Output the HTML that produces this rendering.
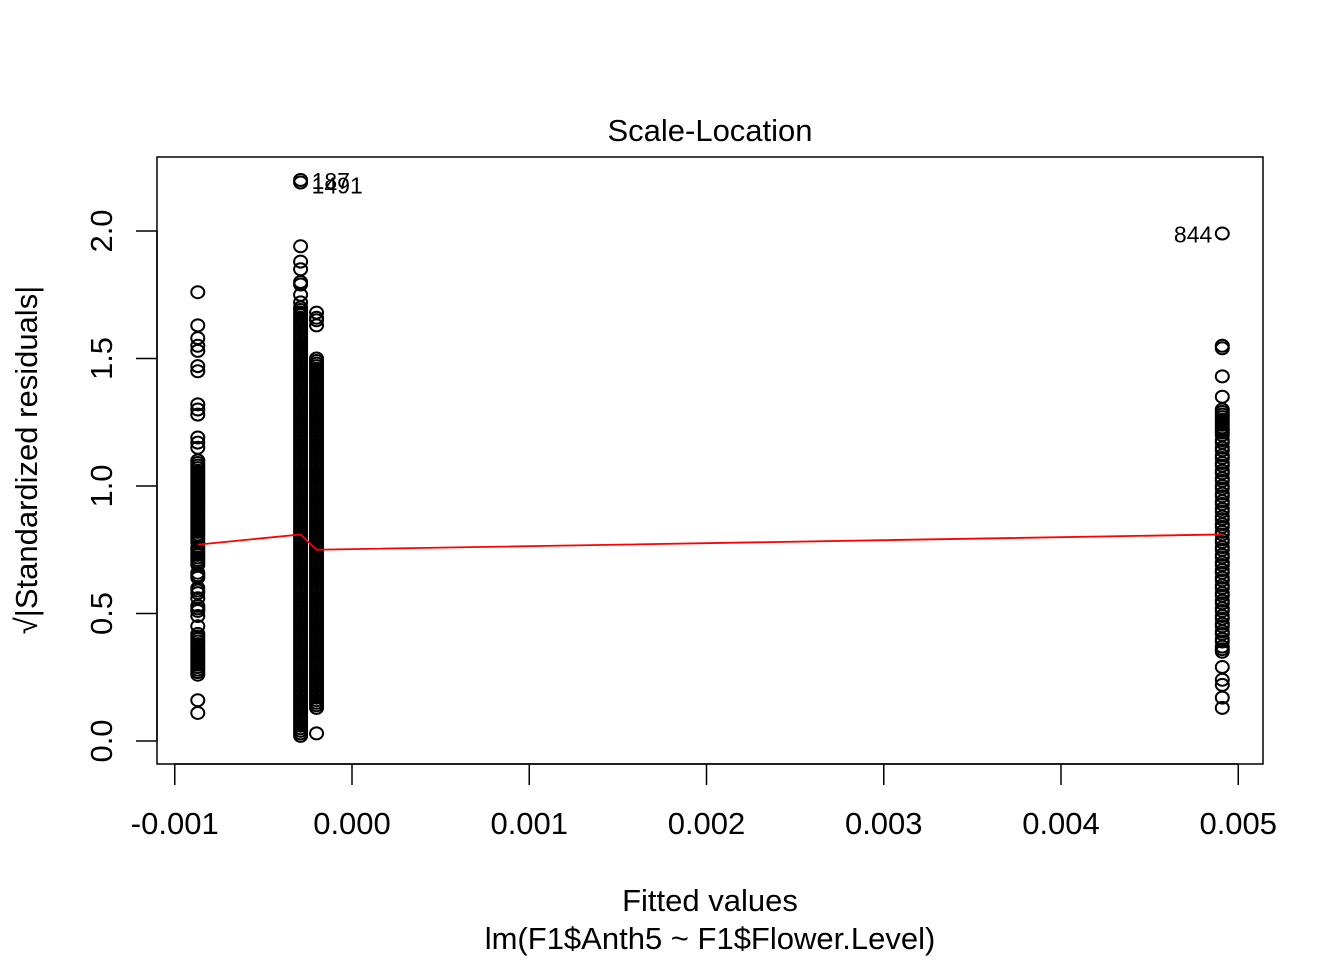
<!DOCTYPE html>
<html><head><meta charset="utf-8"><style>
body{margin:0;background:#fff;}
svg text{font-family:"Liberation Sans",Arial,sans-serif;}
</style></head><body>
<svg id="chart" width="1344" height="960" xmlns="http://www.w3.org/2000/svg">
<rect width="1344" height="960" fill="#fff"/>
<text x="710" y="141" font-size="31" text-anchor="middle">Scale-Location</text>
<rect x="157" y="157" width="1106" height="607" fill="none" stroke="#000" stroke-width="1.5"/>
<g id="points"></g>
<g id="xaxis"></g>
<g id="yaxis"></g>
<text x="710" y="911" font-size="31" text-anchor="middle">Fitted values</text>
<text x="710" y="949" font-size="31" text-anchor="middle">lm(F1$Anth5 ~ F1$Flower.Level)</text>
<text transform="translate(37,460) rotate(-90)" font-size="31" text-anchor="middle">√|Standardized residuals|</text>
</svg>
<script>
const xTicks=[-0.001,0,0.001,0.002,0.003,0.004,0.005];
const xTickLabels=["-0.001","0.000","0.001","0.002","0.003","0.004","0.005"];
const yTicks=[0,0.5,1,1.5,2];
const yTickLabels=["0.0","0.5","1.0","1.5","2.0"];
const groupFitted=[-0.00087,-0.00029,-0.0002,0.00491];
const groupA=[1.76,1.63,1.58,1.55,1.53,1.47,1.45,1.32,1.30,1.28,1.19,1.17,1.15,1.10,1.09,1.08,1.07,1.06,1.05,1.04,1.03,1.02,1.01,1.00,0.99,0.98,0.97,0.96,0.95,0.94,0.93,0.92,0.91,0.90,0.89,0.88,0.87,0.86,0.85,0.84,0.83,0.82,0.81,0.80,0.79,0.78,0.76,0.75,0.74,0.73,0.72,0.71,0.70,0.69,0.66,0.65,0.64,0.60,0.59,0.58,0.56,0.53,0.52,0.51,0.49,0.45,0.42,0.41,0.40,0.39,0.38,0.37,0.36,0.35,0.34,0.33,0.32,0.31,0.30,0.29,0.28,0.27,0.26,0.16,0.11];
const groupB=[2.20,2.19,1.94,1.88,1.85,1.80,1.79,1.75,1.72,1.70,1.69,1.68,1.67,1.66,1.65,1.64,1.63,1.62,1.61,1.60,1.59,1.58,1.57,1.56,1.55,1.54,1.53,1.52,1.51,1.50,1.49,1.48,1.47,1.46,1.45,1.44,1.43,1.42,1.41,1.40,1.39,1.38,1.37,1.36,1.35,1.34,1.33,1.32,1.31,1.30,1.29,1.28,1.27,1.26,1.25,1.24,1.23,1.22,1.21,1.20,1.19,1.18,1.17,1.16,1.15,1.14,1.13,1.12,1.11,1.10,1.09,1.08,1.07,1.06,1.05,1.04,1.03,1.02,1.01,1.00,0.99,0.98,0.97,0.96,0.95,0.94,0.93,0.92,0.91,0.90,0.89,0.88,0.87,0.86,0.85,0.84,0.83,0.82,0.81,0.80,0.79,0.78,0.77,0.76,0.75,0.74,0.73,0.72,0.71,0.70,0.69,0.68,0.67,0.66,0.65,0.64,0.63,0.62,0.61,0.60,0.59,0.58,0.57,0.56,0.55,0.54,0.53,0.52,0.51,0.50,0.49,0.48,0.47,0.46,0.45,0.44,0.43,0.42,0.41,0.40,0.39,0.38,0.37,0.36,0.35,0.34,0.33,0.32,0.31,0.30,0.29,0.28,0.27,0.26,0.25,0.24,0.23,0.22,0.21,0.20,0.19,0.18,0.17,0.16,0.15,0.14,0.13,0.12,0.11,0.10,0.09,0.08,0.07,0.06,0.05,0.04,0.03,0.02];
const groupC=[1.68,1.66,1.65,1.63,1.50,1.49,1.48,1.47,1.46,1.45,1.44,1.43,1.42,1.41,1.40,1.39,1.38,1.37,1.36,1.35,1.34,1.33,1.32,1.31,1.30,1.29,1.28,1.27,1.26,1.25,1.24,1.23,1.22,1.21,1.20,1.19,1.18,1.17,1.16,1.15,1.14,1.13,1.12,1.11,1.10,1.09,1.08,1.07,1.06,1.05,1.04,1.03,1.02,1.01,1.00,0.99,0.98,0.97,0.96,0.95,0.94,0.93,0.92,0.91,0.90,0.89,0.88,0.87,0.86,0.85,0.84,0.83,0.82,0.81,0.80,0.79,0.78,0.77,0.76,0.75,0.74,0.73,0.72,0.71,0.70,0.69,0.68,0.67,0.66,0.65,0.64,0.63,0.62,0.61,0.60,0.59,0.58,0.57,0.56,0.55,0.54,0.53,0.52,0.51,0.50,0.49,0.48,0.47,0.46,0.45,0.44,0.43,0.42,0.41,0.40,0.39,0.38,0.37,0.36,0.35,0.34,0.33,0.32,0.31,0.30,0.29,0.28,0.27,0.26,0.25,0.24,0.23,0.22,0.21,0.20,0.19,0.18,0.17,0.16,0.15,0.14,0.13,0.03];
const groupD=[1.99,1.55,1.54,1.43,1.35,1.30,1.29,1.28,1.27,1.26,1.25,1.24,1.23,1.22,1.21,1.20,1.18,1.17,1.15,1.14,1.12,1.11,1.09,1.08,1.06,1.05,1.03,1.02,1.00,0.99,0.97,0.96,0.94,0.93,0.91,0.90,0.88,0.87,0.85,0.84,0.82,0.81,0.79,0.78,0.76,0.75,0.73,0.72,0.70,0.69,0.67,0.66,0.64,0.63,0.61,0.60,0.58,0.57,0.55,0.54,0.52,0.51,0.49,0.48,0.46,0.45,0.43,0.42,0.40,0.39,0.37,0.36,0.35,0.29,0.24,0.22,0.17,0.13];
const smoothX=[-0.00087,-0.00029,-0.0002,0.00491];
const smoothY=[0.77,0.81,0.75,0.81];
const outlierLabels=[{g:1,v:2.20,t:"187",dy:0},{g:1,v:2.19,t:"1491",dy:2},{g:3,v:1.99,t:"844",dy:0}];

const NS="http://www.w3.org/2000/svg";
const xs=v=>352+v*177250;
const ys=v=>741-v*255;
function mk(tag,attrs,parent){const e=document.createElementNS(NS,tag);for(const k in attrs)e.setAttribute(k,attrs[k]);parent.appendChild(e);return e;}
const xg=document.getElementById('xaxis'),yg=document.getElementById('yaxis'),pg=document.getElementById('points');
mk('line',{x1:xs(xTicks[0]),x2:xs(xTicks[xTicks.length-1]),y1:764,y2:764,stroke:'#000','stroke-width':1.5},xg);
xTicks.forEach((t,i)=>{
  const l=mk('line',{x1:xs(t),x2:xs(t),y1:764,y2:785,stroke:'#000','stroke-width':1.5},xg);
  
  
  const tx=mk('text',{x:xs(t),y:834,'font-size':31,'text-anchor':'middle'},xg);tx.textContent=xTickLabels[i];
  
  
});
mk('line',{x1:157,x2:157,y1:ys(yTicks[0]),y2:ys(yTicks[yTicks.length-1]),stroke:'#000','stroke-width':1.5},yg);
yTicks.forEach((t,i)=>{
  const l=mk('line',{x1:136,x2:157,y1:ys(t),y2:ys(t),stroke:'#000','stroke-width':1.5},yg);
  
  
  const tx=mk('text',{transform:`translate(112,${ys(t)}) rotate(-90)`,'font-size':31,'text-anchor':'middle'},yg);tx.textContent=yTickLabels[i];
  
  
});
[groupA,groupB,groupC,groupD].forEach((g,gi)=>{
  g.forEach(v=>{
    const c=mk('ellipse',{cx:xs(groupFitted[gi]),cy:ys(v),rx:6.5,ry:6,fill:'none',stroke:'#000','stroke-width':2},pg);
    
    
  });
});
const pl=mk('polyline',{points:smoothX.map((x,i)=>xs(x)+','+ys(smoothY[i])).join(' '),fill:'none',stroke:'#f00','stroke-width':1.8},pg);


outlierLabels.forEach(o=>{
  const x=xs(groupFitted[o.g]),y=ys(o.v)+9+o.dy;
  const t=mk('text',o.g===3?{x:x-10,y:y,'font-size':23,'text-anchor':'end'}:{x:x+11,y:y,'font-size':23},pg);
  t.textContent=o.t;
  
  
});
</script>
</body></html>
